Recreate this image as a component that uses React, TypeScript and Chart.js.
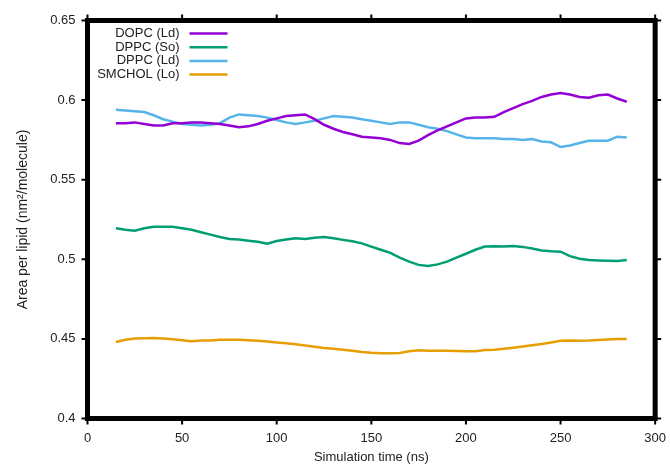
import React, { useEffect, useRef } from "react";
import { Chart, registerables } from "chart.js";

Chart.register(...registerables);

// Simulation time (ns)
const time = [
  15, 20, 25, 30, 35, 40, 45, 50, 55, 60, 65, 70, 75, 80, 85, 90, 95, 100,
  105, 110, 115, 120, 125, 130, 135, 140, 145, 150, 155, 160, 165, 170, 175,
  180, 185, 190, 195, 200, 205, 210, 215, 220, 225, 230, 235, 240, 245, 250,
  255, 260, 265, 270, 275, 280, 285,
];

// Area per lipid (nm^2/molecule)
const dopcLd = [
  0.5855, 0.5855, 0.586, 0.585, 0.584, 0.584, 0.5855, 0.5855, 0.586, 0.586,
  0.5855, 0.585, 0.584, 0.583, 0.5835, 0.585, 0.587, 0.5885, 0.59, 0.5905,
  0.591, 0.588, 0.5845, 0.582, 0.58, 0.5785, 0.577, 0.5765, 0.576, 0.575,
  0.573, 0.5725, 0.5745, 0.578, 0.581, 0.5835, 0.586, 0.5885, 0.589, 0.589,
  0.5895, 0.5925, 0.595, 0.5975, 0.5995, 0.602, 0.6035, 0.6045, 0.6035, 0.602,
  0.6015, 0.603, 0.6035, 0.601, 0.599,
];

const dppcSo = [
  0.5195, 0.5185, 0.518, 0.5195, 0.5205, 0.5205, 0.5205, 0.5195, 0.5185,
  0.517, 0.5155, 0.514, 0.5128, 0.5125, 0.5117, 0.511, 0.5098, 0.5115,
  0.5125, 0.5132, 0.5128, 0.5135, 0.514, 0.5132, 0.5122, 0.5113, 0.51,
  0.508, 0.506, 0.504, 0.501, 0.4985, 0.4965, 0.4958, 0.4968, 0.4985, 0.501,
  0.5035, 0.506, 0.508, 0.5082, 0.508, 0.5083, 0.5078, 0.5068, 0.5055,
  0.505, 0.5048, 0.502, 0.5003, 0.4995, 0.4993, 0.4991, 0.499, 0.4995,
];

const dppcLd = [
  0.594, 0.5935, 0.593, 0.5925, 0.5905, 0.588, 0.5865, 0.585, 0.5845, 0.584,
  0.5845, 0.5855, 0.589, 0.591, 0.5905, 0.59, 0.589, 0.5875, 0.586, 0.585,
  0.586, 0.587, 0.5885, 0.59, 0.5895, 0.589, 0.588, 0.587, 0.586, 0.585,
  0.586, 0.586, 0.5845, 0.583, 0.582, 0.5805, 0.5785, 0.5765, 0.576, 0.576,
  0.576, 0.5755, 0.5755, 0.575, 0.5755, 0.574, 0.5735, 0.5705, 0.5715, 0.573,
  0.5745, 0.5745, 0.5745, 0.577, 0.5765,
];

const smcholLo = [
  0.448, 0.4495, 0.4502, 0.4504, 0.4505, 0.4502, 0.4498, 0.4492, 0.4485,
  0.449, 0.449, 0.4494, 0.4495, 0.4494, 0.4492, 0.4488, 0.4483, 0.4478,
  0.4472, 0.4466, 0.4458, 0.445, 0.4443, 0.4438, 0.4432, 0.4425, 0.4418,
  0.4413, 0.441, 0.441, 0.4412, 0.4422, 0.4428, 0.4426, 0.4425, 0.4425,
  0.4424, 0.4422, 0.4423, 0.443, 0.4432, 0.4438, 0.4445, 0.4452, 0.446,
  0.4468, 0.4478, 0.4488, 0.449, 0.4489, 0.449, 0.4493, 0.4496, 0.45, 0.45,
];

const seriesLabels = ["DOPC (Ld)", "DPPC (So)", "DPPC (Ld)", "SMCHOL (Lo)"];
const seriesColors = ["#9400d3", "#009e73", "#56b4e9", "#e69f00"];

const xTicks = [0, 50, 100, 150, 200, 250, 300];
const yTicks = [0.4, 0.45, 0.5, 0.55, 0.6, 0.65];

const FONT = "'Liberation Sans', Arial, Helvetica, sans-serif";
const TEXT = "#222";

// Thick frame around the plot area with outward ticks on all four sides,
// plus a gnuplot-style key (label text right-aligned, then the line sample).
const framePlugin = {
  id: "frameAndKey",
  afterDatasetsDraw(chart: any) {
    const { ctx, chartArea: a, scales } = chart;
    ctx.save();
    ctx.strokeStyle = "#000";
    ctx.lineWidth = 2;
    const t = 6;
    for (const v of xTicks) {
      const x = scales.x.getPixelForValue(v);
      ctx.beginPath();
      ctx.moveTo(x, a.top - t);
      ctx.lineTo(x, a.top);
      ctx.moveTo(x, a.bottom);
      ctx.lineTo(x, a.bottom + t);
      ctx.stroke();
    }
    for (const v of yTicks) {
      const y = scales.y.getPixelForValue(v);
      ctx.beginPath();
      ctx.moveTo(a.left - t, y);
      ctx.lineTo(a.left, y);
      ctx.moveTo(a.right, y);
      ctx.lineTo(a.right + t, y);
      ctx.stroke();
    }
    ctx.lineWidth = 5;
    ctx.strokeRect(a.left, a.top, a.right - a.left, a.bottom - a.top);

    // key
    ctx.font = `13px ${FONT}`;
    ctx.textAlign = "right";
    ctx.textBaseline = "middle";
    const textRight = a.left + 92;
    const sampleL = a.left + 102;
    const sampleR = a.left + 140;
    const top = a.top + 13;
    const step = 13.7;
    seriesLabels.forEach((label, i) => {
      const y = top + i * step;
      ctx.fillStyle = TEXT;
      ctx.fillText(label, textRight, y);
      ctx.strokeStyle = seriesColors[i];
      ctx.lineWidth = 2.5;
      ctx.beginPath();
      ctx.moveTo(sampleL, y);
      ctx.lineTo(sampleR, y);
      ctx.stroke();
    });
    ctx.restore();
  },
};

export default function App() {
  const canvasRef = useRef<HTMLCanvasElement | null>(null);

  useEffect(() => {
    const canvas = canvasRef.current;
    if (!canvas) return;
    const values = [dopcLd, dppcSo, dppcLd, smcholLo];
    const chart = new Chart(canvas, {
      type: "line",
      data: {
        datasets: values.map((vals, i) => ({
          label: seriesLabels[i],
          data: time.map((t, j) => ({ x: t, y: vals[j] })),
          borderColor: seriesColors[i],
          backgroundColor: seriesColors[i],
          borderWidth: 2.5,
          pointRadius: 0,
          tension: 0,
          fill: false,
        })),
      },
      options: {
        animation: false,
        responsive: true,
        maintainAspectRatio: false,
        layout: { padding: { top: 20.5, right: 14.5, left: 0, bottom: 0 } },
        plugins: {
          legend: { display: false },
          tooltip: { enabled: false },
        },
        scales: {
          x: {
            type: "linear",
            min: 0,
            max: 300,
            afterBuildTicks: (s: any) => {
              s.ticks = xTicks.map((v) => ({ value: v }));
            },
            afterFit: (s: any) => {
              s.height = 47.5;
            },
            grid: { display: false },
            border: { display: false },
            ticks: {
              padding: 4,
              color: TEXT,
              font: { family: FONT, size: 13 },
              maxRotation: 0,
              callback: (v: any) => String(v),
            },
            title: {
              display: true,
              text: "Simulation time (ns)",
              color: TEXT,
              font: { family: FONT, size: 13 },
              padding: { top: 0, bottom: 1 },
            },
          },
          y: {
            type: "linear",
            min: 0.4,
            max: 0.65,
            afterBuildTicks: (s: any) => {
              s.ticks = yTicks.map((v) => ({ value: v }));
            },
            afterFit: (s: any) => {
              s.width = 87.5;
            },
            grid: { display: false },
            border: { display: false },
            ticks: {
              padding: 4,
              color: TEXT,
              font: { family: FONT, size: 13 },
              callback: (v: any) => String(parseFloat(Number(v).toFixed(2))),
            },
            title: {
              display: true,
              text: "Area per lipid (nm²/molecule)",
              color: TEXT,
              font: { family: FONT, size: 14 },
              padding: { top: 15, bottom: 0 },
            },
          },
        },
      },
      plugins: [framePlugin],
    });
    return () => chart.destroy();
  }, []);

  return (
    <div
      style={{
        position: "absolute",
        left: 0,
        top: 0,
        width: 670,
        height: 466,
        background: "#fff",
      }}
    >
      <canvas ref={canvasRef} />
    </div>
  );
}
